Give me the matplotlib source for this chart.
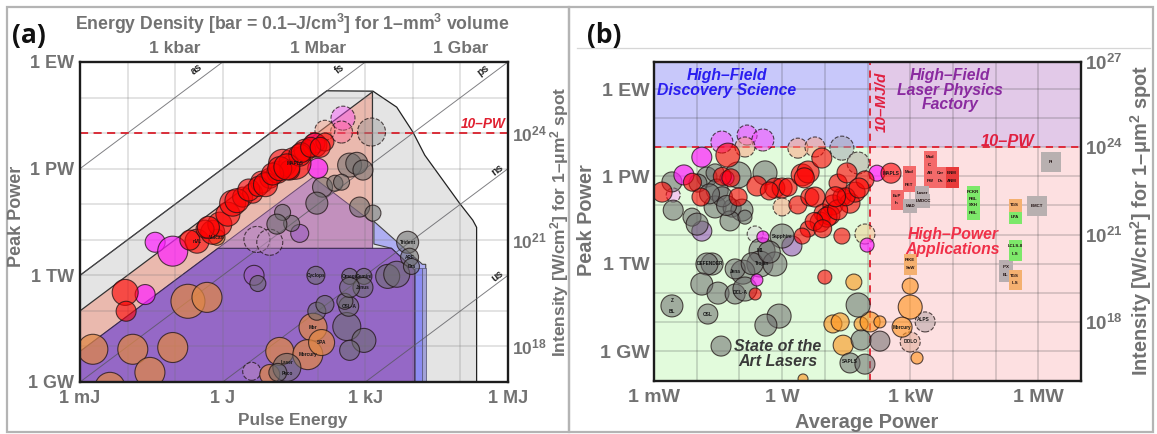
import numpy as np
import matplotlib
matplotlib.use("Agg")
import matplotlib.pyplot as plt
from matplotlib.patches import Rectangle

W, H = 1157, 434
plt.rcParams['font.family'] = ['Liberation Sans', 'DejaVu Sans']
plt.rcParams['mathtext.fontset'] = 'custom'
plt.rcParams['mathtext.rm'] = 'Liberation Sans:bold'
plt.rcParams['mathtext.it'] = 'Liberation Sans:italic:bold'
plt.rcParams['mathtext.bf'] = 'Liberation Sans:bold'
plt.rcParams['mathtext.default'] = 'rm'

GREY = '#727272'

# ---------- Panel (a): log10 pulse energy [J], log10 peak power [W], bubble radius ----------
a_red_e = [-0.54,-0.69,-0.21,-0.06,0.11,-0.37,0.21,0.42,0.63,0.82,0.99,1.16,1.26,1.52,1.41,1.73,1.94,2.15,1.62,-2.05,-2.03,
           -0.3,0.3,0.55,0.75,0.9,1.05,1.2,1.35,1.65,1.85,2.05]
a_red_p = [12.96,12.99,13.21,13.44,13.72,13.30,14.03,14.20,14.31,14.62,14.73,14.90,15.15,15.15,14.96,15.52,15.66,15.75,15.38,11.52,10.99,
           13.35,14.1,14.4,14.5,14.55,14.85,15.0,15.05,15.45,15.6,15.6]
a_red_r = [12,10,12,12,12,9,13,10,10,11,10,11,14,16,10,11,12,9,11,13,10,
           11,12,11,10,12,11,12,13,10,10,10]
a_mag_e = [-1.42,-1.05,-1.63,1.94,2.0]
a_mag_p = [12.93,12.68,11.46,15.72,15.01]
a_mag_r = [10,15,10,10,10]
a_org_e = [-0.73,-0.33,-2.73,-1.89,-1.05,-1.53,-2.37,1.2,0.99,1.9,1.79,2.08,-0.12]
a_org_p = [11.27,11.38,9.92,9.92,9.97,9.27,8.85,9.86,9.21,10.54,9.77,10.11,13.07]
a_org_r = [17,15,15,15,15,15,15,14,10,14,15,13,8]
a_gry_e = [1.35,1.16,1.98,2.15,2.61,2.97,2.67,2.65,2.57,2.67,2.97,2.95,2.67,1.96,3.47,3.66,3.89,3.93,3.97,
           2.67,2.82,2.95,2.10,2.36,2.50,1.98,2.88,3.16,1.45,1.26,1.14,0.74]
a_gry_p = [9.41,9.27,10.99,11.18,10.56,10.17,9.89,11.13,11.27,11.97,11.97,11.66,11.66,12.0,11.97,12.03,12.93,12.51,12.25,
           15.10,15.15,14.96,14.48,14.59,14.62,14.03,13.92,13.75,13.46,13.77,13.44,11.77]
a_gry_r = [14,9,9,9,14,12,10,10,8,8,8,10,10,9,12,13,11,9,8,12,11,10,10,8,8,11,10,8,8,8,10,8]
a_pur_e = [1.62,0.66]
a_pur_p = [13.18,12.0]
a_pur_r = [9,10]
a_plan_e = [3.13,2.53,2.50,2.15,0.72,0.99,0.61]
a_plan_p = [16.03,16.42,16.03,16.08,13.01,12.93,9.30]
a_plan_r = [14,12,11,10,13,13,9]
a_plan_c = ['#909090','#ff40ff','#ff6090','#ff9070','#c090c0','#c090c0','#c090c0']
a_names = ['MAPLS','Cyclops','Laser','Peco','Mercury','Vulcan','nVL','Trident','ARF','Dra','OSL-A','Omega','Gemini','Janus','Mer','SPA']
a_name_e = [1.52,1.96,1.35,1.35,1.79,-0.12,-0.54,3.89,3.93,3.97,2.65,2.67,2.97,2.95,1.9,2.08]
a_name_p = [15.15,12.0,9.55,9.25,9.77,13.07,12.96,12.93,12.51,12.25,11.13,11.97,11.97,11.66,10.54,10.11]

# region boundaries, log10 energy / log10 power
grey_e = [-3,2.19,3.16,3.66,4.0,4.25,4.98,5.26,5.34,5.34,-3]
grey_p = [12,17.19,17.18,16.73,16.03,15.38,14.03,13.55,13.35,9,9]
pink_e = [-3,3.15,3.15,-3]
pink_p = [11,17.16,9,9]
lilac_e = [-3,1.9,3.15,3.15,-3]
lilac_p = [9.86,14.76,13.49,9,9]
purple_e = [-3,-0.1,3.55,4.04,4.04,-3]
purple_p = [9.86,12.76,12.76,12.15,9,9]
blue_e = [3.18,4.2,4.27,4.27,4.04,4.04,3.55,3.18]
blue_p = [13.52,12.31,12.31,9,9,12.15,12.76,12.88]
strip1_e, strip2_e, strip3_e = 4.04, 4.2, 4.27
strip_top = 12.2

durations = [-18,-15,-12,-9,-6]
dur_names = ['as','fs','ps','ns','us']
dur_e = [-0.54,2.46,5.47,5.78,5.78]
dur_p = [17.8,17.8,17.76,14.96,11.97]

# ---------- Panel (b): log10 average power [W], log10 peak power [W], bubble radius ----------
b_red_x = [-2.81,-1.90,-1.27,-1.03,-0.59,-0.17,0.0,0.14,0.47,0.61,0.93,0.37,0.65,0.77,0.96,1.19,1.40,1.59,1.31,1.52,1.71,1.94,0.89,0.61,0.47,1.40,1.0,-0.63,1.12,2.55,
           1.05,1.3,1.5,1.25,1.8,0.75,0.95,-0.3,-2.1,-1.4,-1.2,0.52]
b_red_y = [14.46,14.29,15.73,14.29,14.67,14.6,14.6,14.63,15.05,15.15,15.63,14.02,14.29,14.29,13.74,14.02,14.29,14.08,14.77,15.12,14.46,14.88,13.43,13.19,12.95,12.95,11.54,10.96,13.67,15.11,
           13.6,13.85,14.3,14.3,14.6,13.45,13.2,14.5,14.8,15.0,14.95,14.95]
b_red_r = [10,9,12,9,10,10,10,9,11,11,10,9,9,10,9,10,9,10,9,10,10,9,10,8,8,8,7,6,10,10,
           10,10,9,10,10,9,9,9,9,9,9,10]
b_mag_x = [-1.88,-2.30,-1.29,-0.45,-0.59,1.99,2.22]
b_mag_y = [15.66,15.05,14.94,12.92,11.44,12.64,15.11]
b_mag_r = [10,10,7,6,6,7,8]
b_gry_x = [-2.58,-2.55,-1.76,-1.97,-1.57,-1.03,-0.40,-1.52,-1.57,-1.17,-0.94,-2.11,-1.99,-1.22,-0.87,0,-0.47,-0.52,-0.17,-0.92,-1.10,-1.64,-1.76,-1.88,-1.50,-1.10,-0.87,-2.58,-1.74,-0.07,-0.38,-1.43,1.78,1.59,1.85,2.29,1.94,
           -1.4,-1.3,-1.7,-0.7,-0.3]
b_gry_y = [14.81,13.84,14.98,14.77,15.12,15.05,15.12,14.53,13.95,13.91,13.84,13.6,13.36,13.47,13.6,12.95,12.44,11.99,11.99,11.71,11.82,11.99,11.99,11.30,10.99,10.96,11.13,10.55,10.27,10.2,9.89,9.17,10.58,8.59,9.38,9.34,8.55,
           14.3,14.0,14.4,12.0,12.4]
b_gry_r = [10,10,10,9,9,13,12,11,11,9,11,9,11,10,7,12,13,13,12,12,10,11,11,11,11,10,12,11,10,12,11,10,12,10,10,10,10,
           10,10,10,11,11]
b_pur_x = [0.23,-1.88]
b_pur_y = [12.61,13.12]
b_pur_r = [10,10]
b_org_x = [1.68,1.19,1.36,1.85,1.43,0.49,2.06,2.29,3.0,3.0,2.81,3.16]
b_org_y = [11.37,9.93,10.0,9.93,9.2,8.04,10.0,10.0,11.23,10.51,9.82,8.76]
b_org_r = [8,9,9,7,10,5,10,6,8,12,10,6]
b_plan_x = [-1.41,-0.82,-0.45,-0.87,0.37,0.77,1.40,-0.63,-2.55,3.35,3.0,1.94,0.0,1.78]
b_plan_y = [16.18,16.42,16.25,16.01,15.97,16.01,15.97,13.02,14.36,10.0,9.31,13.02,13.95,15.46]
b_plan_r = [11,10,11,10,10,10,12,8,7,10,10,10,9,11]
b_plan_c = ['#ff40ff','#ff40ff','#ff40ff','#ffa080','#ffa080','#ffa080','#a0a0b0','#d8d8d8','#ffa0ff','#b0a0a0','#e0a890','#f0d090','#ffa080','#b0a0a0']
b_names = ['MAPLS','Mercury','OSL','Z','BL','DEFENDER','Jena','DCL-A','Sapphire','Trojan','M1','SAPLS','ALPS','DOLO']
b_name_x = [2.55,2.81,-1.74,-2.58,-2.58,-1.70,-1.10,-0.98,0.0,-0.47,-0.52,1.59,3.3,3.0]
b_name_y = [15.11,9.82,10.27,10.75,10.35,11.99,11.72,11.0,12.95,12.0,12.44,8.65,10.1,9.31]

sq_names = ['Mad','C','AB','PW','Car','Ds','BNM','ANM','Mod','PET','EuP','In','Laser','LMDCC','MAD','PI','BMCT',
            'PCKR','PBL','SXH','PBL','TGS','LPA','LCLS-II','ILS','IPX','EL','TGS','ILS','RIKE','SaW']
sq_x = [3.46,3.46,3.46,3.46,3.70,3.70,3.98,3.98,2.97,2.97,2.69,2.69,3.28,3.30,3.0,6.30,5.97,
        4.47,4.47,4.47,4.47,5.45,5.45,5.45,5.45,5.24,5.24,5.45,5.45,3.0,3.0]
sq_y = [15.67,15.39,15.12,14.84,15.12,14.84,15.12,14.84,15.15,14.70,14.33,14.08,14.43,14.15,13.98,15.49,13.98,
        14.46,14.22,14.02,13.74,14.02,13.60,12.61,12.33,11.89,11.61,11.58,11.34,12.13,11.85]
sq_kind = ['r','r','r','r','r','r','d','d','r','r','r','r','g','g','g','G','G',
           'n','n','n','n','o','n','n','n','g','g','o','o','o','o']
sq_col = {'r':'#f46a6a','d':'#e83a3a','g':'#b8aeb0','G':'#b8b0b0','n':'#7de86a','o':'#f4b070'}
sq_size = {'r':13,'d':13,'g':14,'G':20,'n':13,'o':13}

RED = (1, 0, 0, .6); MAG = (1, .12, 1, .7); ORG = (1, .58, .12, .62)
ORG_A = (.88, .53, .27, .72)
GRY = (.42, .42, .42, .55); PUR = (.6, .35, .75, .6)
EDGE = (.12, .08, .08, .75)


def area(rad):
    return (np.asarray(rad) * 2 * 72 / 100) ** 2


def p10(v):
    return 10.0 ** np.asarray(v, float)


def bubbles(ax, x, y, r, col, z, ls='-'):
    ax.scatter(p10(x), p10(y), s=area(r), c=[col] * len(x) if isinstance(col, tuple) else col,
               edgecolors=EDGE, linewidths=.8, linestyles=ls, zorder=z)


fig = plt.figure(figsize=(W / 100, H / 100), dpi=100)
fig.patch.set_facecolor('white')


def fx(x):
    return x / W


def fy(y):
    return 1 - y / H


# frames
fig.add_artist(Rectangle((fx(7), fy(432)), fx(562), 425 / H, fill=False, ec='#b4b4b4', lw=1.6))
fig.add_artist(Rectangle((fx(569), fy(432)), fx(584), 425 / H, fill=False, ec='#b4b4b4', lw=1.6))
fig.add_artist(plt.Line2D([fx(577), fx(1150)], [fy(47.5)] * 2, color='#d6d6d6', lw=.9))

# ---------------- axes (a)
axa = fig.add_axes([fx(80), fy(382), 428 / W, 320 / H])
axa.set_xscale('log'); axa.set_yscale('log')
axa.set_xlim(1e-3, 1e6); axa.set_ylim(1e9, 1e18)
axa.fill(p10(grey_e), p10(grey_p), fc='#e4e4e4', ec='#222222', lw=.9, zorder=1)
axa.fill(p10(pink_e), p10(pink_p), fc='#eab9ae', ec='#333333', lw=.9, zorder=1.1)
axa.fill(p10(blue_e), p10(blue_p), fc='#aeaef2', ec='#444444', lw=.8, zorder=1.2)
axa.fill(p10(lilac_e), p10(lilac_p), fc='#c290bd', ec='#6a4a70', lw=.7, zorder=1.3)
axa.fill(p10(purple_e), p10(purple_p), fc='#9568c6', ec='#3a2a50', lw=.8, zorder=1.4)
axa.fill_between(p10([strip1_e, strip2_e]), 1e9, 10 ** strip_top, fc='#8c8cf2', ec='#555577', lw=.5, zorder=1.5)
axa.fill_between(p10([strip2_e, strip3_e]), 1e9, 10 ** strip_top, fc='#a2a2d8', ec='#555577', lw=.5, zorder=1.5)
for t in durations:
    e = np.array([-3.0, 6.0])
    p = e - t
    axa.plot(p10(e), p10(p), color='#55555a', lw=.7, alpha=.75, zorder=2)
for e, p, n in zip(dur_e, dur_p, dur_names):
    axa.text(10 ** e, 10 ** p, n, rotation=37, ha='center', va='center', fontsize=7.5,
             fontweight='bold', color='#222222', zorder=8)
axa.set_xticks(p10(np.arange(-3, 7)))
axa.set_xticklabels(['1 mJ', '', '', '1 J', '', '', '1 kJ', '', '', '1 MJ'])
axa.set_yticks(p10(np.arange(9, 19)))
axa.set_yticklabels(['1 GW', '', '', '1 TW', '', '', '1 PW', '', '', '1 EW'])
axa.minorticks_off()
axa.grid(True, color='#707070', alpha=.25, lw=1.1, zorder=2.5)
axa.set_axisbelow(False)
axa.axhline(1e16, color='#d8202c', ls=(0, (4.5, 3)), lw=1.3, zorder=3)
axa.text(10 ** 5.47, 10 ** 16.26, '10–PW', color='#e02030', style='italic', fontweight='bold',
         fontsize=9.8, ha='center', va='center', zorder=8)
bubbles(axa, a_plan_e, a_plan_p, a_plan_r, [matplotlib.colors.to_rgba(c, .4) for c in a_plan_c], 4, '--')
bubbles(axa, a_org_e, a_org_p, a_org_r, ORG_A, 5)
bubbles(axa, a_pur_e, a_pur_p, a_pur_r, PUR, 5)
bubbles(axa, a_gry_e, a_gry_p, a_gry_r, GRY, 5.5)
bubbles(axa, a_mag_e, a_mag_p, a_mag_r, MAG, 5.7)
bubbles(axa, a_red_e, a_red_p, a_red_r, RED, 6)
for n, e, p in zip(a_names, a_name_e, a_name_p):
    axa.text(10 ** e, 10 ** p, n, fontsize=3.4, fontweight='bold', ha='center', va='center', color='#151515', zorder=7)

# ---------------- axes (b)
axb = fig.add_axes([fx(654), fy(381), 427 / W, 319 / H])
axb.set_xscale('log'); axb.set_yscale('log')
axb.set_xlim(1e-3, 1e7)
YB0, YB1 = 7.97, 18.93
axb.set_ylim(10 ** YB0, 10 ** YB1)
XSPLIT = 2.06
axb.fill_between(p10([-3, XSPLIT]), 1e16, 10 ** YB1, fc='#c8c8fa', lw=0, zorder=1)
axb.fill_between(p10([XSPLIT, 7]), 1e16, 10 ** YB1, fc='#e2c9e8', lw=0, zorder=1)
axb.fill_between(p10([-3, XSPLIT]), 10 ** YB0, 1e16, fc='#e2fbdc', lw=0, zorder=1)
axb.fill_between(p10([XSPLIT, 7]), 10 ** YB0, 1e16, fc='#fde0e1', lw=0, zorder=1)
axb.set_xticks(p10(np.arange(-3, 8)))
axb.set_xticklabels(['1 mW', '', '', '1 W', '', '', '1 kW', '', '', '1 MW', ''])
axb.set_yticks(p10(np.arange(9, 19)))
axb.set_yticklabels(['1 GW', '', '', '1 TW', '', '', '1 PW', '', '', '1 EW'])
axb.minorticks_off()
axb.grid(True, color='#404040', alpha=.25, lw=1.1, zorder=2)
axb.set_axisbelow(False)
axb.axhline(1e16, color='#e02030', ls=(0, (4, 3)), lw=1.3, zorder=3)
axb.axvline(10 ** XSPLIT, color='#e02030', ls=(0, (4, 3)), lw=1.3, zorder=3)
bubbles(axb, b_plan_x, b_plan_y, b_plan_r, [matplotlib.colors.to_rgba(c, .5) for c in b_plan_c], 4, '--')
bubbles(axb, b_org_x, b_org_y, b_org_r, ORG, 5)
bubbles(axb, b_pur_x, b_pur_y, b_pur_r, PUR, 5)
bubbles(axb, b_gry_x, b_gry_y, b_gry_r, GRY, 5.5)
bubbles(axb, b_mag_x, b_mag_y, b_mag_r, MAG, 5.7)
bubbles(axb, b_red_x, b_red_y, b_red_r, RED, 6)
for k in sq_col:
    idx = [i for i, s in enumerate(sq_kind) if s == k]
    axb.scatter(p10([sq_x[i] for i in idx]), p10([sq_y[i] for i in idx]), marker='s',
                s=(sq_size[k] * .72) ** 2, c=sq_col[k], linewidths=0, zorder=5)
for n, x, y in zip(sq_names, sq_x, sq_y):
    axb.text(10 ** x, 10 ** y, n, fontsize=3.2, fontweight='bold', ha='center', va='center', color='#201010', zorder=7)
for n, x, y in zip(b_names, b_name_x, b_name_y):
    axb.text(10 ** x, 10 ** y, n, fontsize=3.4, fontweight='bold', ha='center', va='center', color='#151515', zorder=7)

for ax, size, ypad in ((axa, 13, 4), (axb, 14, 3)):
    for s in ax.spines.values():
        s.set_linewidth(1.7); s.set_color('#1c1c1c'); s.set_zorder(20)
    ax.tick_params(which='both', length=0, labelsize=size, labelcolor=GREY)
    ax.tick_params(axis='x', pad=6)
    ax.tick_params(axis='y', pad=ypad)
    for l in ax.get_xticklabels() + ax.get_yticklabels():
        l.set_fontweight('bold')

# secondary scales
topa = axa.twiny()
topa.set_xscale('log'); topa.set_xlim(axa.get_xlim())
topa.set_xticks([1e-1, 1e2, 1e5]); topa.set_xticklabels(['1 kbar', '1 Mbar', '1 Gbar'], fontweight='bold')
topa.minorticks_off()
topa.tick_params(length=0, labelsize=12.5, labelcolor=GREY, pad=4)

ra = axa.twinx()
ra.set_yscale('log'); ra.set_ylim(axa.get_ylim())
ra.set_yticks([1e10, 1e13, 1e16]); ra.set_yticklabels(['$10^{18}$', '$10^{21}$', '$10^{24}$'])
ra.minorticks_off()
ra.tick_params(length=0, labelsize=12.5, labelcolor=GREY, pad=3)

rb = axb.twinx()
rb.set_yscale('log'); rb.set_ylim(axb.get_ylim())
rb.set_yticks([1e10, 1e13, 1e16, 10 ** YB1]); rb.set_yticklabels(['$10^{18}$', '$10^{21}$', '$10^{24}$', '$10^{27}$'])
rb.minorticks_off()
rb.tick_params(length=0, labelsize=13.5, labelcolor=GREY, pad=3)
for t in (topa, ra, rb):
    for s in t.spines.values():
        s.set_visible(False)

# annotation text
kw = dict(fontweight='bold', color=GREY, ha='center', va='center')
fig.text(fx(292), fy(24), 'Energy Density [bar = 0.1–J/cm$^{3}$] for 1–mm$^{3}$ volume', fontsize=12.7, **kw)
fig.text(fx(17), fy(216), 'Peak Power', rotation=90, fontsize=13, **kw)
fig.text(fx(293), fy(420), 'Pulse Energy', fontsize=12.4, **kw)
fig.text(fx(560), fy(222), 'Intensity [W/cm$^{2}$] for 1–μm$^{2}$ spot', rotation=90, fontsize=12.5, **kw)
fig.text(fx(586), fy(220), 'Peak Power', rotation=90, fontsize=14.4, **kw)
fig.text(fx(867), fy(423), 'Average Power', fontsize=14.4, **kw)
fig.text(fx(1141), fy(220), 'Intensity [W/cm$^{2}$] for 1–μm$^{2}$ spot', rotation=90, fontsize=14.4, **kw)
fig.text(fx(29), fy(35), '(a)', fontsize=19, fontweight='bold', family='Open Sans', ha='center', va='center', color='#111111')
fig.text(fx(604), fy(35), '(b)', fontsize=19, fontweight='bold', family='Open Sans', ha='center', va='center', color='#111111')

lab = dict(style='italic', fontweight='bold', ha='center', va='center', linespacing=.95, zorder=30)
fig.text(fx(727), fy(83), 'High–Field\nDiscovery Science', color='#2a1ef0', fontsize=11.3, **lab)
fig.text(fx(950), fy(90), 'High–Field\nLaser Physics\nFactory', color='#8a2aa0', fontsize=11.3, **lab)
fig.text(fx(882), fy(102), '10–MJ/d', color='#e02040', fontsize=11, rotation=90, **lab)
fig.text(fx(1008), fy(141), '10–PW', color='#e02040', fontsize=11.8, **lab)
fig.text(fx(953), fy(242), 'High–Power\nApplications', color='#f03048', fontsize=11.3, **lab)
fig.text(fx(778), fy(354), 'State of the\nArt Lasers', color='#3a3a3a', fontsize=11.5, **lab)

fig.savefig('out.png', dpi=100)
